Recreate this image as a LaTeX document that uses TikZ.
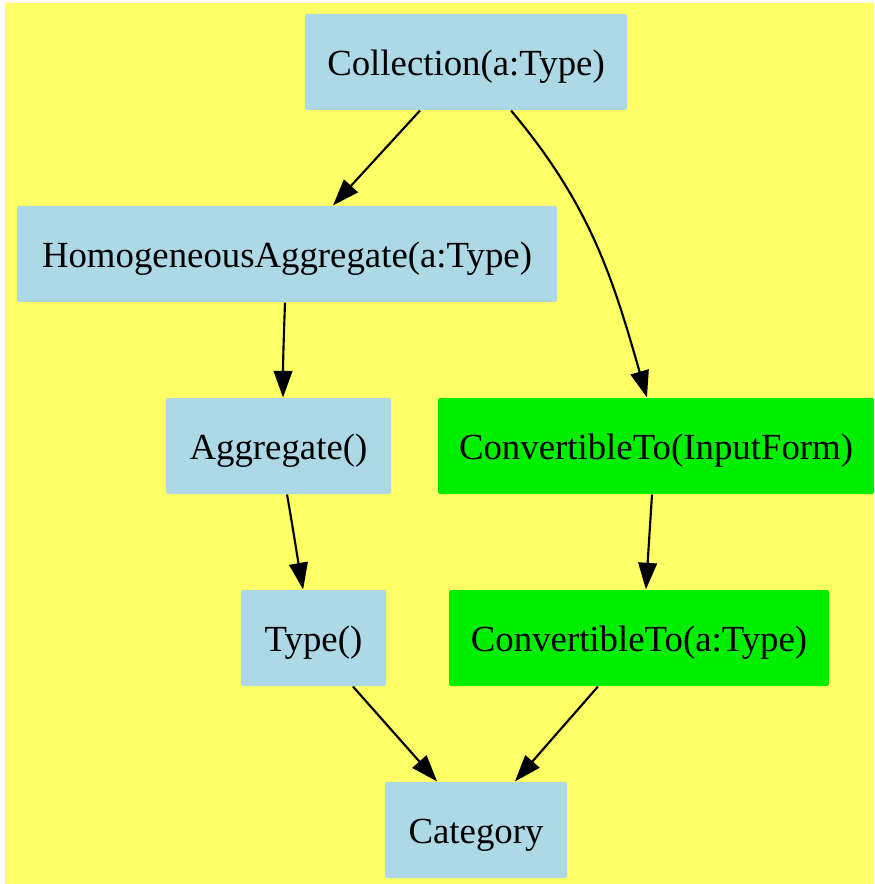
\documentclass[tikz,border=0pt]{standalone}
\usepackage{fontspec}
\setmainfont{Liberation Serif}
\usetikzlibrary{arrows.meta}
\definecolor{bgyellow}{HTML}{FFFF66}
\definecolor{nodeblue}{HTML}{ADD8E6}
\definecolor{nodegreen}{HTML}{00EE00}
\tikzset{
  box/.style={rectangle, fill=nodeblue, inner sep=0pt, minimum height=36pt,
    text height=11pt, text depth=0.8pt, rounded corners=0.6pt,
    font=\fontsize{13.8}{16}\selectfont},
  gbox/.style={box, fill=nodegreen},
  edge/.style={line width=0.8pt, -{Triangle[length=10pt,width=7pt]}}
}
\begin{document}
\begin{tikzpicture}[x=0.375pt,y=-0.375pt]
\useasboundingbox (0,0) rectangle (874,884);
\fill[white] (0,0) rectangle (874,884);
\fill[bgyellow] (5,3) rectangle (874,884);
\node[box, minimum width=120.75pt] (coll) at (466,62) {Collection(a:Type)};
\node[box, minimum width=202.5pt] (homog) at (287,254) {HomogeneousAggregate(a:Type)};
\node[box, minimum width=84.4pt] (aggr) at (278.5,446) {Aggregate()};
\node[gbox, minimum width=163.5pt] (cinput) at (656,446) {ConvertibleTo(InputForm)};
\node[box, minimum width=54.4pt] (type) at (313.5,638) {Type()};
\node[gbox, minimum width=142.5pt] (ctype) at (639,638) {ConvertibleTo(a:Type)};
\node[box, minimum width=68.25pt] (cat) at (476,830) {Category};
\draw[edge] ([xshift=-17.25pt]coll.south) -- ([xshift=17.25pt]homog.north);
\draw[edge] ([xshift=16.9pt]coll.south) to[out=-50,in=106] ([xshift=-3.4pt]cinput.north);
\draw[edge] ([xshift=-0.75pt]homog.south) to[out=-92,in=90] ([xshift=1.7pt]aggr.north);
\draw[edge] ([xshift=3.2pt]aggr.south) to[out=-80,in=100] ([xshift=-3.9pt]type.north);
\draw[edge] ([xshift=-1.5pt]cinput.south) -- ([xshift=2.6pt]ctype.north);
\draw[edge] ([xshift=14.8pt]type.south) -- ([xshift=-14.6pt]cat.north);
\draw[edge] ([xshift=-15.4pt]ctype.south) -- ([xshift=14.6pt]cat.north);
\end{tikzpicture}
\end{document}
